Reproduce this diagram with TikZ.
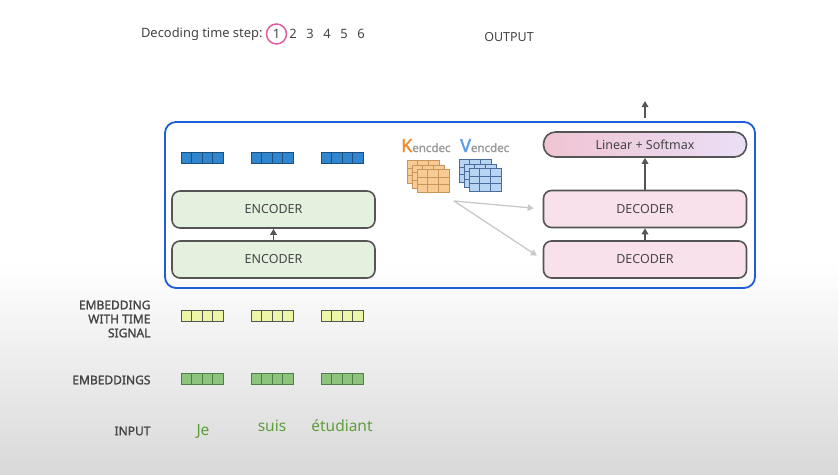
\documentclass[tikz,border=0pt]{standalone}
\usepackage{fontspec}
\setmainfont{Noto Sans}
\newfontfamily\semibf{Noto Sans}[FakeBold=1.6]
\usetikzlibrary{arrows.meta,positioning,calc}
\definecolor{TFFrame}{HTML}{1D5FD8}
\definecolor{TFVecBlue}{HTML}{2F86CF}
\definecolor{TFVecBlueLine}{HTML}{1D4F7E}
\definecolor{TFEnc}{HTML}{E4F1DF}
\definecolor{TFDec}{HTML}{F9E1EC}
\definecolor{TFEdge}{HTML}{555555}
\definecolor{TFText}{HTML}{454545}
\definecolor{TFPink}{HTML}{E0609E}
\definecolor{TFKLetter}{HTML}{F08A2C}
\definecolor{TFKFill}{HTML}{F8CB95}
\definecolor{TFKLine}{HTML}{C8955A}
\definecolor{TFVLetter}{HTML}{5B9BE6}
\definecolor{TFVFill}{HTML}{B8D4F3}
\definecolor{TFVLine}{HTML}{4A6C9A}
\definecolor{TFSub}{HTML}{9A9A9A}
\definecolor{TFYellow}{HTML}{EDF5A6}
\definecolor{TFGreen}{HTML}{8CC47E}
\definecolor{TFGreenLine}{HTML}{4F7F47}
\definecolor{TFWord}{HTML}{5E9E3C}
\definecolor{TFGray}{HTML}{C9C9C9}
\definecolor{TFLinL}{HTML}{F0C4D2}
\definecolor{TFLinR}{HTML}{EADFF7}
\definecolor{TFBack}{HTML}{D9D9D9}
\tikzset{
  flow/.style={-{Triangle[length=6pt,width=6.5pt]},TFEdge,line width=1.6pt},
  flowgray/.style={flow,TFGray,line width=1.3pt},
  block/.style={draw=TFEdge,line width=1.6pt,rounded corners=8pt,text=TFText,
                minimum width=203pt,minimum height=37pt,font=\fontsize{12.5}{14}\selectfont},
  encblock/.style={block,fill=TFEnc},
  decblock/.style={block,fill=TFDec},
  frame/.style={draw=TFFrame,line width=1.8pt,rounded corners=11pt},
  vecbox/.style={draw=#1,line width=0.8pt,minimum width=42pt,minimum height=11pt,inner sep=0pt,
                 path picture={\foreach \k in {1,2,3}{
                   \draw[#1,line width=0.8pt] ([xshift=\k*10.5pt]path picture bounding box.south west)
                     -- ([xshift=\k*10.5pt]path picture bounding box.north west);}}},
  vecblue/.style={vecbox=TFVecBlueLine,fill=TFVecBlue},
  vecyellow/.style={vecbox=TFEdge,fill=TFYellow},
  vecgreen/.style={vecbox=TFGreenLine,fill=TFGreen},
  matbox/.style={draw=#1,line width=0.7pt,minimum width=32pt,minimum height=23pt,inner sep=0pt,
                 path picture={\foreach \k in {1,2}{
                   \draw[#1,line width=0.7pt] ([xshift=\k*32pt/3]path picture bounding box.south west)
                     -- ([xshift=\k*32pt/3]path picture bounding box.north west);
                   \draw[#1,line width=0.7pt] ([yshift=\k*23pt/3]path picture bounding box.south west)
                     -- ([yshift=\k*23pt/3]path picture bounding box.south east);}}},
  matk/.style={matbox=TFKLine,fill=TFKFill},
  matv/.style={matbox=TFVLine,fill=TFVFill},
  rowlabel/.style={text=TFText,font=\fontsize{12}{14}\semibf,align=right,anchor=east},
  word/.style={text=TFWord,font=\fontsize{15.5}{17}\selectfont},
  steplabel/.style={text=TFText,font=\fontsize{12.9}{15}\selectfont},
}
\begin{document}
\begin{tikzpicture}[x=1pt,y=-1pt]
  \useasboundingbox (0,0) rectangle (838,474);
  \fill[white] (0,0) rectangle (838,262);
  \shade[top color=white,bottom color=TFBack] (0,262) rectangle (838,474);

  % time step header
  \node[steplabel,anchor=east] (steptxt) at (266,34) {Decoding time step:};
  \node[steplabel,draw=TFPink,line width=1.5pt,circle,inner sep=1.2pt,minimum size=20pt] (t1) at (276.5,34) {1};
  \foreach \n/\x in {2/293,3/310,4/327,5/344,6/361}
    \node[steplabel] (t\n) at (\x,34) {\n};
  \node[steplabel,font=\fontsize{12.5}{14}\selectfont] (outtxt) at (509,37) {OUTPUT};

  % transformer frame
  \node[frame,minimum width=590pt,minimum height=166pt] (box) at (460,205) {};

  % encoder side
  \foreach \i/\x in {1/202,2/272,3/342}
    \node[vecblue] (enc\i) at (\x,158) {};
  \node[encblock] (encA) at (273.5,209.5) {ENCODER};
  \node[encblock] (encB) at (273.5,259.5) {ENCODER};
  \draw[flow] (encB.north) -- (encA.south);

  % keys and values
  \node[inner sep=0pt,anchor=base west] (klab) at (401,152)
    {\semibf\textcolor{TFKLetter}{\fontsize{18}{18}\selectfont K}\textcolor{TFSub}{\fontsize{11.5}{12}\selectfont encdec}};
  \node[inner sep=0pt,anchor=base west] (vlab) at (460,152)
    {\semibf\textcolor{TFVLetter}{\fontsize{18}{18}\selectfont V}\textcolor{TFSub}{\fontsize{11.5}{12}\selectfont encdec}};
  \foreach \d in {2,1,0}{
    \node[matk] (kmat\d) at (433-5*\d,181-4.5*\d) {};
    \node[matv] (vmat\d) at (485-5*\d,180-4.5*\d) {};
  }
  \coordinate (kvsrc) at (454,201);

  % decoder side
  \node[decblock] (decA) at (645,209) {DECODER};
  \node[decblock] (decB) at (645,259.5) {DECODER};
  \node[block,rounded corners=12pt,minimum height=25pt,left color=TFLinL,right color=TFLinR]
    (lin) at (645,144.5) {Linear + Softmax};
  \coordinate (outtip) at (645,101);

  \draw[flow] (decB.north) -- (decA.south);
  \draw[flow] (decA.north) -- (lin.south);
  \draw[flow] ([yshift=13pt]lin.north) -- (outtip);
  \draw[flowgray,shorten >=9pt] (kvsrc) -- (decA.west);
  \draw[flowgray,shorten >=7pt] (kvsrc) -- (decB.west);

  % inputs and embeddings
  \node[rowlabel] (lsig) at (154,319) {EMBEDDING\\WITH TIME\\SIGNAL};
  \node[rowlabel] (lemb) at (154,380) {EMBEDDINGS};
  \node[rowlabel] (linp) at (154,431) {INPUT};
  \foreach \i/\x in {1/202,2/272,3/342}{
    \node[vecyellow] (sig\i) at (\x,316) {};
    \node[vecgreen] (emb\i) at (\x,379) {};
  }
  \node[word] (w1) at (203,431) {Je};
  \node[word] (w2) at (272,426) {suis};
  \node[word] (w3) at (342,426) {étudiant};
\end{tikzpicture}
\end{document}
